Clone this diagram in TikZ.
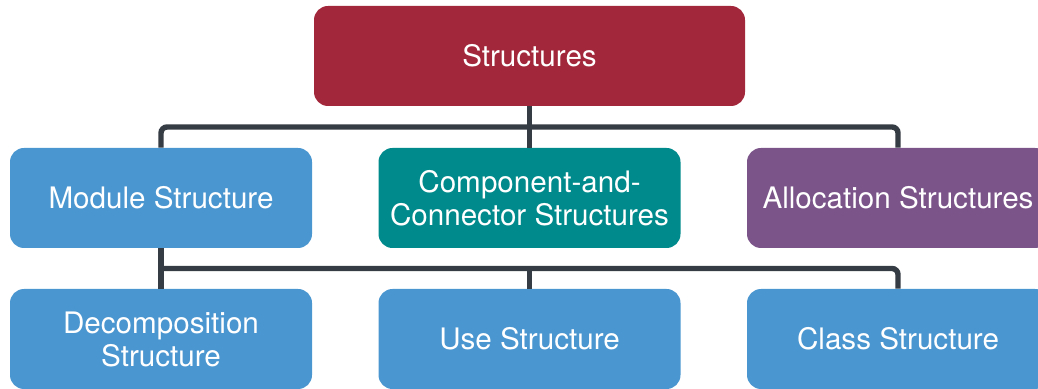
\documentclass[tikz,border=0pt]{standalone}
\usepackage{fontspec}
\setmainfont{TeX Gyre Heros}
\usetikzlibrary{positioning}
\usetikzlibrary{calc}
\definecolor{boxred}{HTML}{A3273A}
\definecolor{boxblue}{HTML}{4A96D0}
\definecolor{boxteal}{HTML}{008A8B}
\definecolor{boxpurple}{HTML}{7B5489}
\definecolor{linkgray}{HTML}{363C43}
\tikzset{%
    box/.style={rounded corners=7pt, minimum width=151pt, minimum height=50pt,
        text=white, align=center, inner sep=2pt,
        font={\fontsize{14.8}{16.5}\selectfont}},
    link/.style={draw=linkgray, line width=2.7pt, rounded corners=3pt},
}

\begin{document}
\begin{tikzpicture}[x=0.5pt,y=-0.5pt]
\clip (0,0) rectangle (1038,389);
\node (top) [box, fill=boxred, minimum width=215.5pt] at (529.5,56) {Structures};
\node (mod) [box, fill=boxblue] at (161,198) {Module Structure};
\node (cnc) [box, fill=boxteal] at (529.5,198) {Component-and-\\Connector Structures};
\node (alloc) [box, fill=boxpurple] at (898,198) {Allocation Structures};
\node (dec) [box, fill=boxblue] at (161,339) {Decomposition\\Structure};
\node (use) [box, fill=boxblue] at (529.5,339) {Use Structure};
\node (cls) [box, fill=boxblue] at (898,339) {Class Structure};
% upper bus
\coordinate (upbus) at ($(top.south)!0.5!(cnc.north)$);
\draw [link] (top.south) -- (cnc.north);
\draw [link] (mod.north) |- (upbus) -| (alloc.north);
% lower bus
\coordinate (lowbus) at ($(mod.south)!0.5!(dec.north)$);
\draw [link] (mod.south) -- (dec.north);
\draw [link] (lowbus) -| (cls.north);
\draw [link] (use.north) -- (use.north |- lowbus);
\end{tikzpicture}
\end{document}
